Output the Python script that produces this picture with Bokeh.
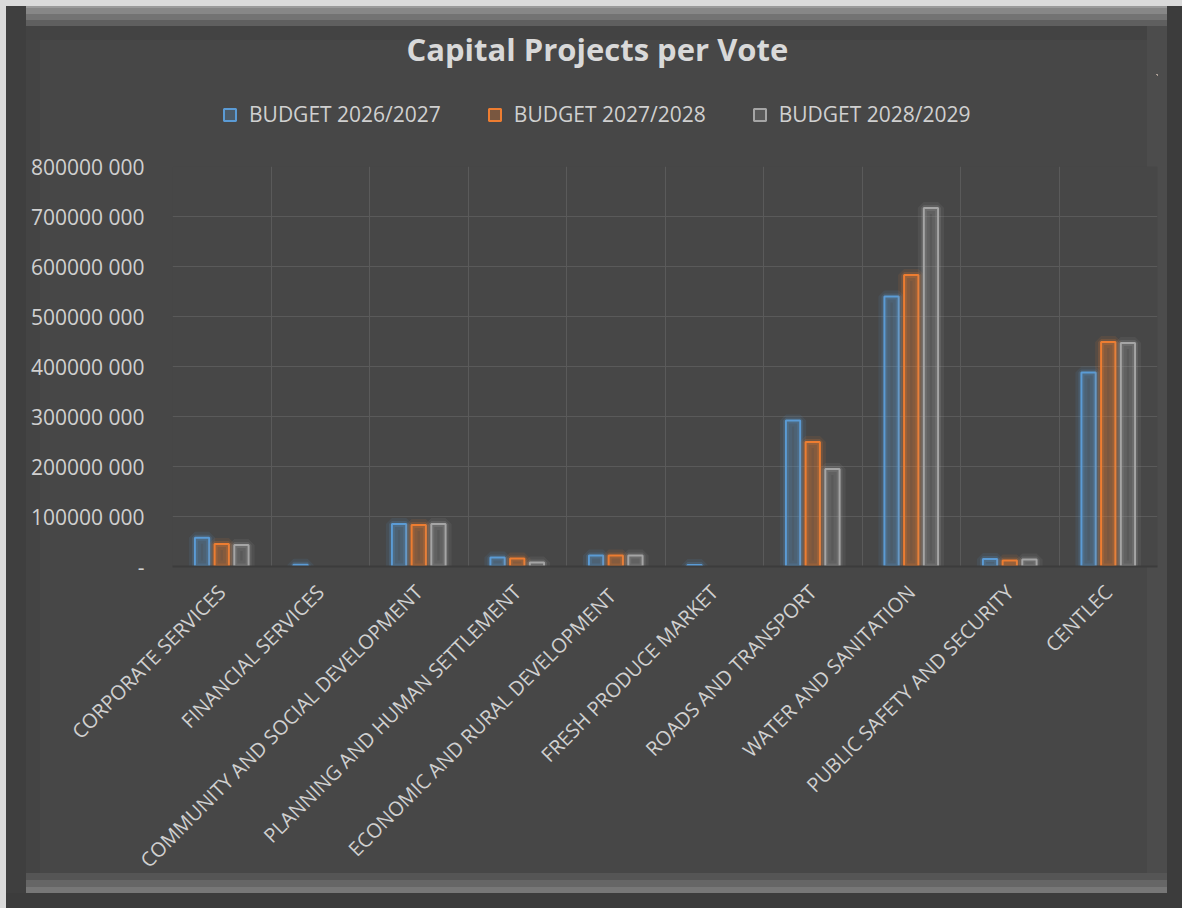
import math
from bokeh.plotting import figure
from bokeh.layouts import column
from bokeh.models import FixedTicker, Legend, LegendItem, ColumnDataSource
from bokeh.embed import file_html
from bokeh.resources import INLINE

# ---------------- data ----------------
categories = [
    "CORPORATE SERVICES",
    "FINANCIAL SERVICES",
    "COMMUNITY AND SOCIAL DEVELOPMENT",
    "PLANNING AND HUMAN SETTLEMENT",
    "ECONOMIC AND RURAL  DEVELOPMENT",
    "FRESH PRODUCE MARKET",
    "ROADS AND TRANSPORT",
    "WATER AND SANITATION",
    "PUBLIC SAFETY AND SECURITY",
    "CENTLEC",
]
series_names = ["BUDGET 2026/2027", "BUDGET 2027/2028", "BUDGET 2028/2029"]
budget_2026_2027 = [57_500_000, 3_400_000, 85_000_000, 18_000_000, 22_000_000, 3_000_000,
                    292_000_000, 540_000_000, 15_000_000, 388_000_000]
budget_2027_2028 = [45_000_000, 0, 83_000_000, 16_000_000, 22_000_000, 0,
                    249_000_000, 583_000_000, 12_000_000, 449_000_000]
budget_2028_2029 = [43_000_000, 0, 85_000_000, 8_000_000, 22_000_000, 0,
                    195_000_000, 717_000_000, 14_000_000, 447_000_000]
y_ticks = [0, 100_000_000, 200_000_000, 300_000_000, 400_000_000,
           500_000_000, 600_000_000, 700_000_000, 800_000_000]

# ---------------- style ----------------
colors = ["#5b9bd5", "#ed7d31", "#a5a5a5"]
fill_alphas = [0.25, 0.3, 0.2]
offsets = [-0.2, 0.0, 0.2]
BG = "#474747"
TXT = "#d0d0d0"
FONT = "Open Sans"
W = 1176
HEAD_H = 140
MAIN_H = 762

bevel = ", ".join([
    "inset -15px 0 0 0 #3c3c3c",
    "inset 0 -15px 0 0 #3c3c3c",
    "inset 20px 0 0 0 #3f3f3f",
    "inset 0 -21px 0 0 #777777",
    "inset 0 -28px 0 0 #666666",
    "inset 0 -35px 0 0 #555555",
    "inset 0 2px 0 0 #9a9a9a",
    "inset 0 8px 0 0 #878787",
    "inset 0 14px 0 0 #737373",
    "inset 0 20px 0 0 #5f5f5f",
    "inset -35px 0 0 0 #4c4c4c",
    "inset 0 34px 0 0 #434343",
    "inset 34px 0 0 0 #444444",
])

# ---------------- header: title + legend ----------------
# ranges chosen so that the swatch renderers' bars lie outside the header's view
head = figure(width=W, height=HEAD_H, x_range=(-3, -2), y_range=(-2, -1),
              output_backend="svg", toolbar_location=None,
              x_axis_type=None, y_axis_type=None,
              min_border_left=0, min_border_right=0, min_border_top=68, min_border_bottom=0)
head.grid.visible = False
head.outline_line_alpha = 0
head.background_fill_alpha = 0
head.border_fill_alpha = 0
head.title.text = "Capital Projects per Vote"
head.title.align = "left"
head.title.offset = 234
head.title.text_font = FONT
head.title.text_font_size = "31px"
head.title.text_font_style = "bold"
head.title.text_color = "#d9d9d9"

# ---------------- main chart ----------------
p = figure(width=W, height=MAIN_H, x_range=(0, len(categories)), y_range=(0, y_ticks[-1]),
           output_backend="svg", toolbar_location=None,
           min_border_left=166, min_border_right=25, min_border_top=20, min_border_bottom=342)
p.background_fill_color = BG
p.border_fill_alpha = 0
p.outline_line_alpha = 0

centers = [i + 0.5 for i in range(len(categories))]
all_series = [budget_2026_2027, budget_2027_2028, budget_2028_2029]
legend_items = []
for name, vals, color, fa, off in zip(series_names, all_series, colors, fill_alphas, offsets):
    src = ColumnDataSource(dict(
        x=[c + off for c, v in zip(centers, vals) if v > 0],
        top=[v for v in vals if v > 0],
    ))
    p.vbar(x="x", top="top", width=0.145, source=src, fill_alpha=0,
           line_color=color, line_alpha=0.10, line_width=12)
    p.vbar(x="x", top="top", width=0.145, source=src, fill_alpha=0,
           line_color=color, line_alpha=0.18, line_width=6)
    p.vbar(x="x", top="top", width=0.145, source=src, fill_color=color, fill_alpha=fa,
           line_color=color, line_width=2)
    # legend swatch in the header: same series and style (bars fall outside the header view)
    sw = head.vbar(x="x", top="top", width=0.145, source=src,
                   fill_color=color, fill_alpha=fa, line_color=color, line_width=2)
    legend_items.append(LegendItem(label=name, renderers=[sw]))

p.yaxis.ticker = FixedTicker(ticks=y_ticks)
p.yaxis.major_label_overrides = {t: ("-" if t == 0 else f"{t // 1000} {t % 1000:03d}") for t in y_ticks}
p.yaxis.axis_line_alpha = 0
p.yaxis.major_tick_line_alpha = 0
p.yaxis.major_tick_out = 0
p.yaxis.minor_tick_line_alpha = 0
p.yaxis.minor_tick_out = 0
p.yaxis.major_label_standoff = 28
p.yaxis.major_label_text_font = FONT
p.yaxis.major_label_text_font_size = "21px"
p.yaxis.major_label_text_color = TXT

p.xaxis.ticker = FixedTicker(ticks=centers)
p.xaxis.major_label_overrides = {c: n for c, n in zip(centers, categories)}
p.xaxis.major_label_orientation = math.pi / 4
p.xaxis.axis_line_color = "#3c3c3c"
p.xaxis.axis_line_width = 2
p.xaxis.major_tick_line_alpha = 0
p.xaxis.major_tick_out = 0
p.xaxis.minor_tick_line_alpha = 0
p.xaxis.minor_tick_out = 0
p.xaxis.major_label_standoff = 22
p.xaxis.major_label_text_font = FONT
p.xaxis.major_label_text_font_size = "20px"
p.xaxis.major_label_text_color = TXT

p.xgrid.ticker = FixedTicker(ticks=list(range(len(categories) + 1)))
p.xgrid.grid_line_color = "#5a5a5a"
p.ygrid.grid_line_color = "#5a5a5a"

legend = Legend(items=legend_items, orientation="horizontal", location=(50, 18),
                glyph_width=15, glyph_height=15, label_standoff=12, spacing=46,
                label_text_font=FONT, label_text_font_size="21px", label_text_color=TXT,
                background_fill_alpha=0, border_line_alpha=0, padding=0, margin=0)
head.add_layout(legend)

layout = column(head, p, spacing=0, margin=(6, 0, 0, 6),
                styles={"background-color": BG, "box-shadow": bevel, "outline": "6px solid #dadada"})

open("out.html", "w").write(file_html(layout, INLINE))
